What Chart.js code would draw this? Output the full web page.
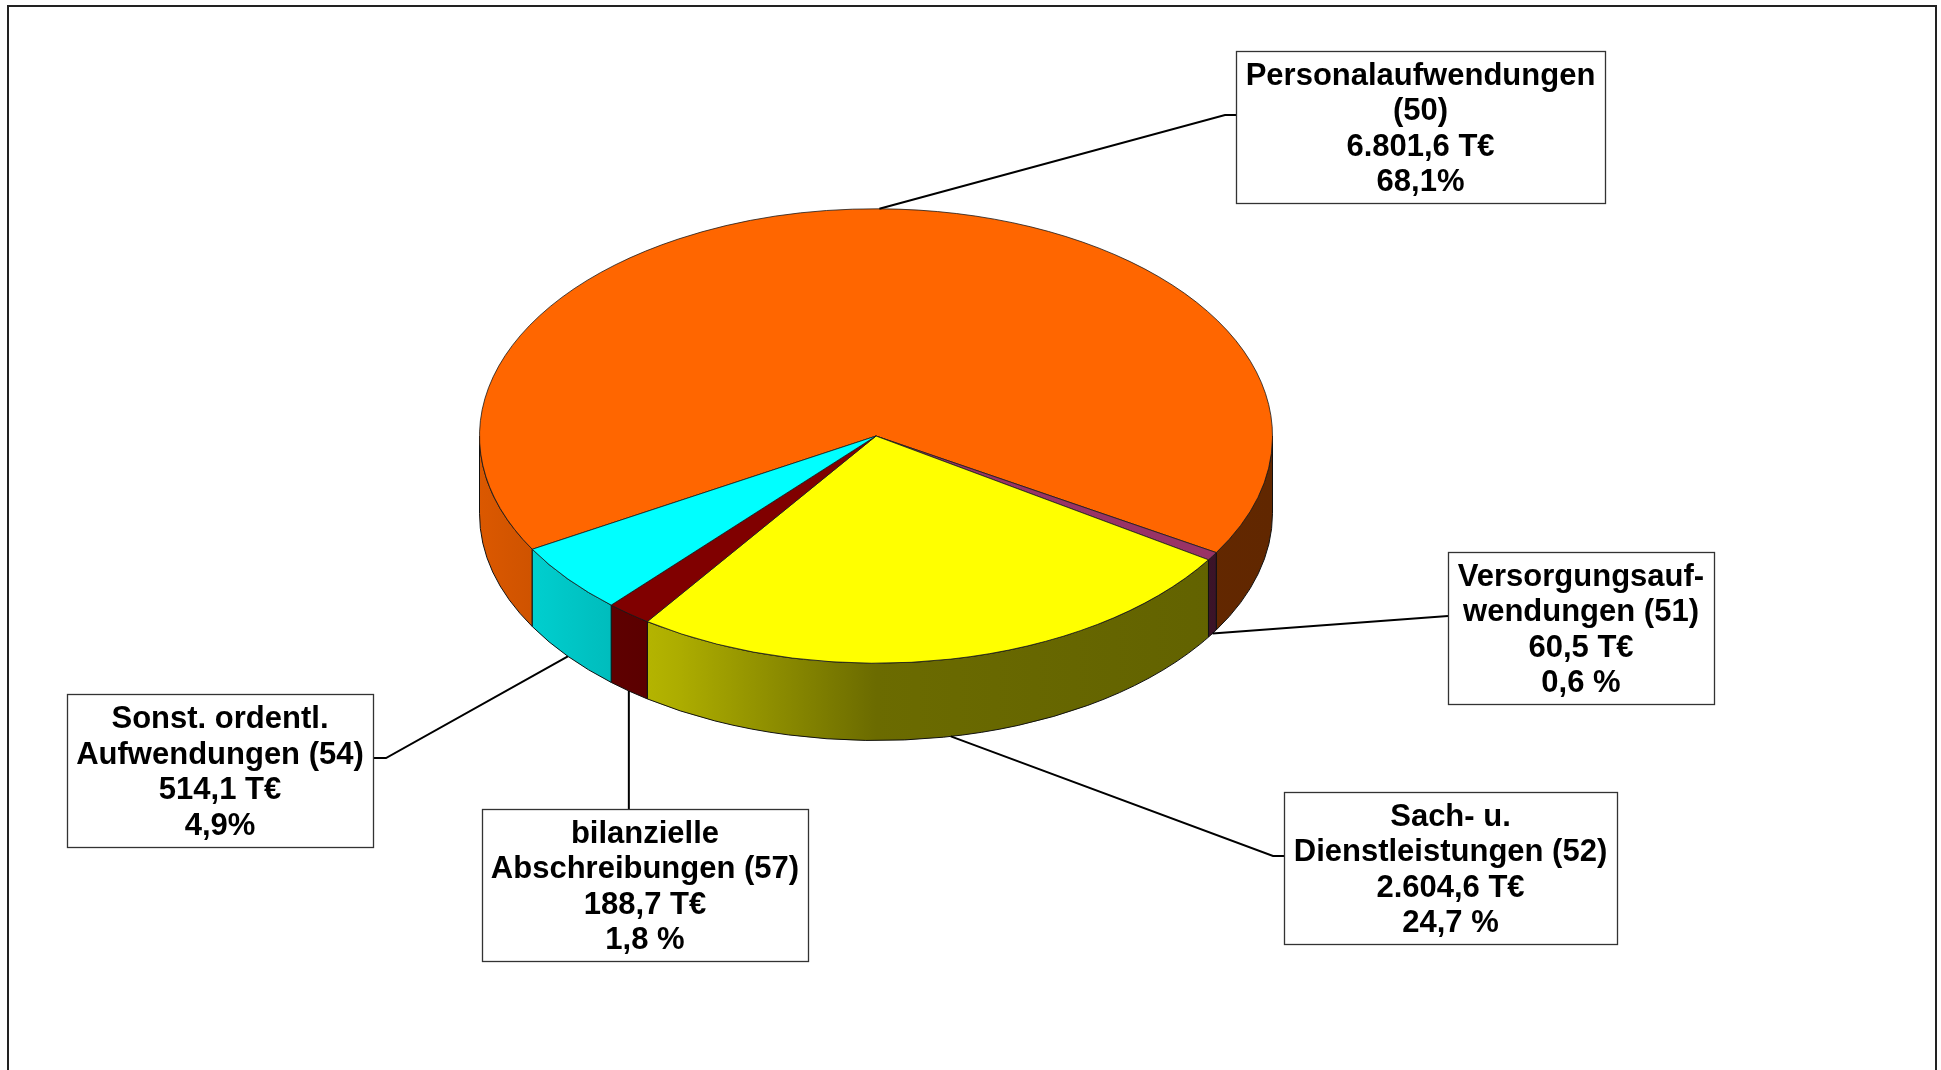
<!DOCTYPE html>
<html>
<head>
<meta charset="utf-8">
<script src="https://cdn.jsdelivr.net/npm/chart.js@4.4.1/dist/chart.umd.min.js"></script>
<style>
  html, body { margin: 0; padding: 0; background: #fff; }
  canvas { display: block; }
</style>
</head>
<body>
<canvas id="pie" width="1941" height="1070"></canvas>
<script>
// Aufwendungen nach Kontengruppen (T€)
const categories = [
  'Personalaufwendungen (50)',
  'Versorgungsaufwendungen (51)',
  'Sach- u. Dienstleistungen (52)',
  'bilanzielle Abschreibungen (57)',
  'Sonst. ordentl. Aufwendungen (54)'
];
const labelLines = [
  ['Personalaufwendungen', '(50)'],
  ['Versorgungsauf-', 'wendungen (51)'],
  ['Sach- u.', 'Dienstleistungen (52)'],
  ['bilanzielle', 'Abschreibungen (57)'],
  ['Sonst. ordentl.', 'Aufwendungen (54)']
];
const amounts = [6801.6, 60.5, 2604.6, 188.7, 514.1];
const percentLabels = ['68,1%', '0,6 %', '24,7 %', '1,8 %', '4,9%'];
const sliceColors = ['#FF6600', '#993366', '#FFFF00', '#800000', '#00FFFF'];

// where the label boxes sit
const boxes = [
  { x: 1236, y: 51,  w: 369, h: 152, elbow: [1225, 115], attach: [1236, 115] },
  { x: 1448, y: 552, w: 266, h: 152, elbow: [1448, 616], attach: [1448, 616] },
  { x: 1284, y: 792, w: 333, h: 152, elbow: [1273, 856], attach: [1284, 856] },
  { x: 482,  y: 809, w: 326, h: 152, elbow: null,        attach: [null, 809] },
  { x: 67,   y: 694, w: 306, h: 153, elbow: [386, 758],  attach: [373, 758] }
];

const TILT = 0.573;   // ry / rx of the top face
const DEPTH = 0.195;  // height of the wall relative to radius
const SIDE_SHADE = [[0, 0.86], [0.25, 0.68], [0.5, 0.42], [1, 0.38]];
const FONT = 'bold 31px "Liberation Sans", Arial, sans-serif';

function shade(hex, f) {
  const n = parseInt(hex.slice(1), 16);
  const r = Math.round(((n >> 16) & 255) * f);
  const g = Math.round(((n >> 8) & 255) * f);
  const b = Math.round((n & 255) * f);
  return `rgb(${r},${g},${b})`;
}

function fmtT(v) {
  const [i, d] = v.toFixed(1).split('.');
  return i.replace(/\B(?=(\d{3})+(?!\d))/g, '.') + ',' + d + ' T€';
}

const pie3d = {
  id: 'pie3d',
  beforeDatasetsDraw(chart) {
    const ctx = chart.ctx;
    const arcs = chart.getDatasetMeta(0).data;
    const cx = arcs[0].x, cy = arcs[0].y, r = arcs[0].outerRadius;
    const ry = r * TILT, depth = r * DEPTH;

    // side walls (front half only)
    arcs.forEach((arc, i) => {
      const grad = ctx.createLinearGradient(cx - r, 0, cx + r, 0);
      SIDE_SHADE.forEach(([stop, f]) => grad.addColorStop(stop, shade(sliceColors[i], f)));
      for (let k = -1; k <= 2; k++) {
        const a = Math.max(arc.startAngle, k * 2 * Math.PI);
        const b = Math.min(arc.endAngle, k * 2 * Math.PI + Math.PI);
        if (b <= a) continue;
        ctx.beginPath();
        ctx.ellipse(cx, cy, r, ry, 0, a, b);
        ctx.lineTo(cx + r * Math.cos(b), cy + depth + ry * Math.sin(b));
        ctx.ellipse(cx, cy + depth, r, ry, 0, b, a, true);
        ctx.closePath();
        ctx.fillStyle = grad;
        ctx.fill();
        ctx.lineWidth = 1;
        ctx.strokeStyle = '#111';
        ctx.stroke();
      }
    });

    // top face: the library's own arcs, squashed
    ctx.save();
    ctx.translate(cx, cy);
    ctx.scale(1, TILT);
    ctx.translate(-cx, -cy);
    arcs.forEach(a => a.draw(ctx));
    ctx.restore();
    return false;
  },
  afterDraw(chart) {
    const ctx = chart.ctx;
    const arcs = chart.getDatasetMeta(0).data;
    const cx = arcs[0].x, cy = arcs[0].y, r = arcs[0].outerRadius;
    const ry = r * TILT, depth = r * DEPTH;

    ctx.save();
    arcs.forEach((arc, i) => {
      const mid = (arc.startAngle + arc.endAngle) / 2;
      const front = Math.sin(mid) > 0;
      const ax = cx + r * Math.cos(mid);
      const ay = (front ? cy + depth : cy) + ry * Math.sin(mid);
      const bx = boxes[i];

      // leader line
      ctx.beginPath();
      ctx.moveTo(ax, ay);
      if (bx.elbow) ctx.lineTo(bx.elbow[0], bx.elbow[1]);
      ctx.lineTo(bx.attach[0] === null ? ax : bx.attach[0], bx.attach[1]);
      ctx.lineWidth = 2;
      ctx.strokeStyle = '#000';
      ctx.stroke();

      // box
      ctx.fillStyle = '#fff';
      ctx.fillRect(bx.x, bx.y, bx.w, bx.h);
      ctx.lineWidth = 1.3;
      ctx.strokeStyle = '#333';
      ctx.strokeRect(bx.x + 0.5, bx.y + 0.5, bx.w, bx.h);

      // text
      const lines = [...labelLines[i], fmtT(amounts[i]), percentLabels[i]];
      const pitch = 35.4;
      const midY = bx.y + bx.h / 2;
      ctx.font = FONT;
      ctx.fillStyle = '#000';
      ctx.textAlign = 'center';
      ctx.textBaseline = 'alphabetic';
      lines.forEach((t, j) => {
        ctx.fillText(t, bx.x + bx.w / 2, midY + (j - (lines.length - 1) / 2) * pitch + 11);
      });
    });

    // outer frame
    ctx.lineWidth = 2;
    ctx.strokeStyle = '#222';
    ctx.strokeRect(8, 6, 1928, 1200);
    ctx.restore();
  }
};

new Chart(document.getElementById('pie'), {
  type: 'pie',
  data: {
    labels: categories,
    datasets: [{
      data: amounts,
      backgroundColor: sliceColors,
      borderColor: '#1a1a1a',
      borderWidth: 1
    }]
  },
  options: {
    responsive: false,
    animation: false,
    rotation: 240.1,
    layout: { padding: { left: 479, right: 668, top: 39, bottom: 237 } },
    plugins: {
      legend: { display: false },
      tooltip: { enabled: false }
    }
  },
  plugins: [pie3d]
});
</script>
</body>
</html>
